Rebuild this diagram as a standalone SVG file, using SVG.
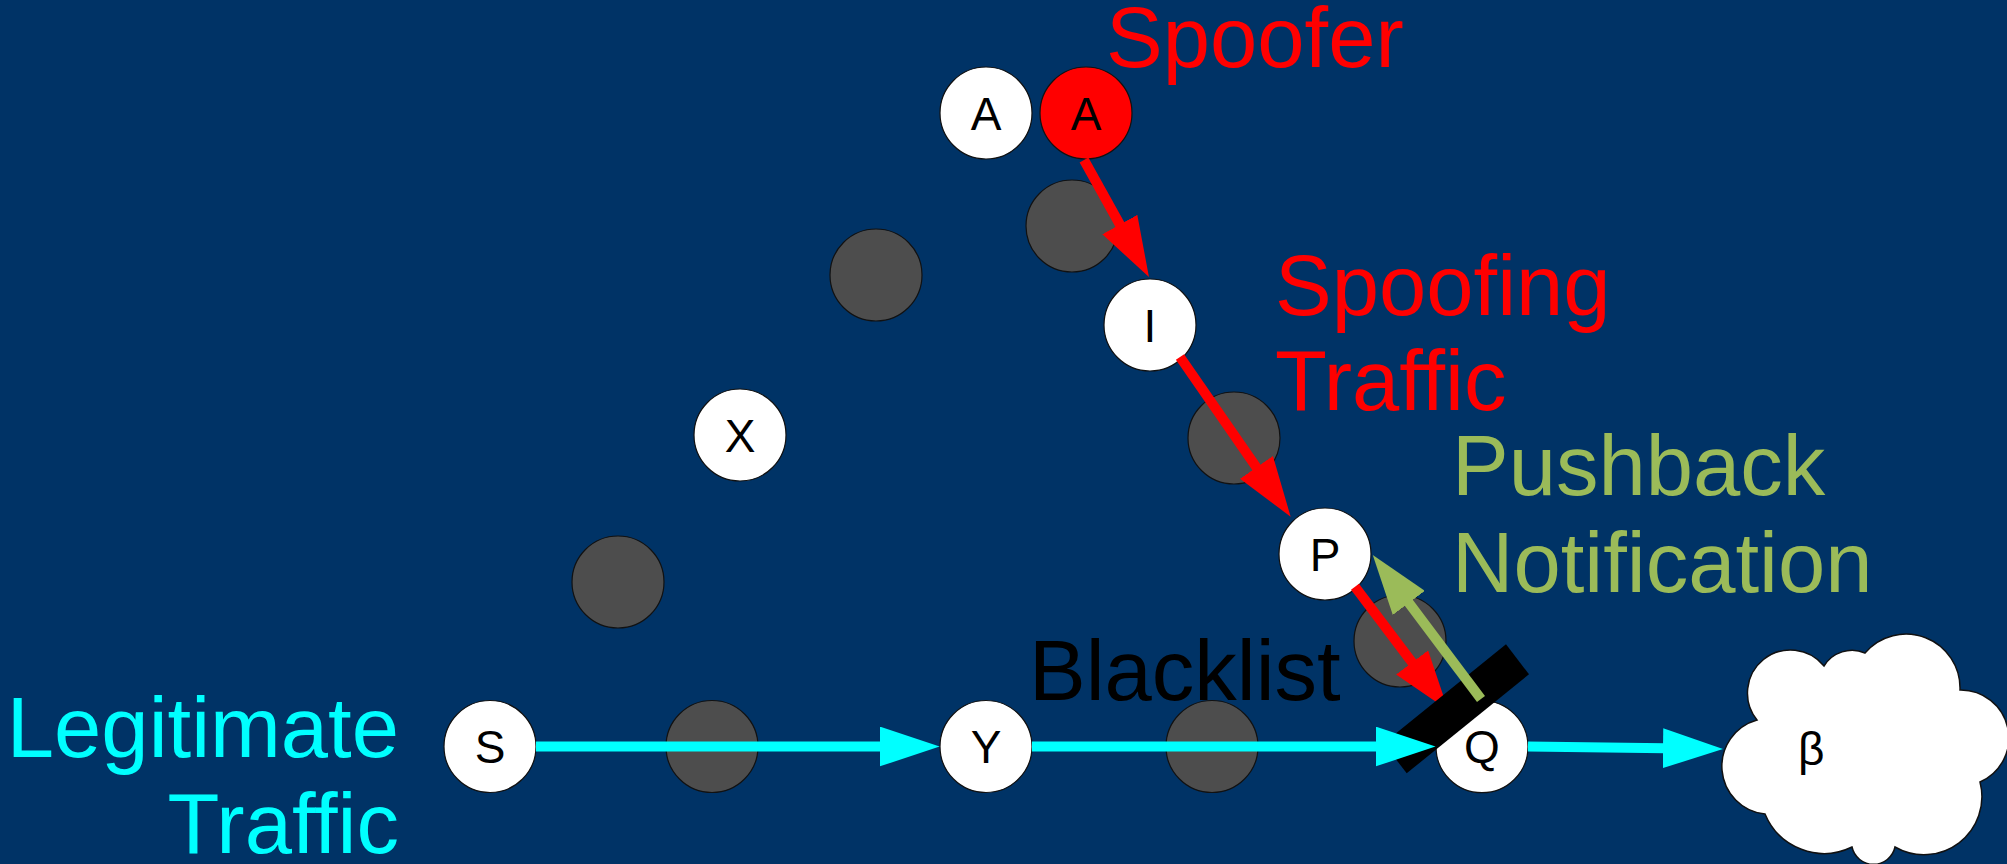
<svg xmlns="http://www.w3.org/2000/svg" width="2007" height="864" viewBox="0 0 2007 864">
<style>
.bg{fill:#003366}
.node{fill:#ffffff;stroke:#111;stroke-width:1.2}
.spoof{fill:#ff0000;stroke:#111;stroke-width:1.2}
.relay{fill:#4d4d4d;stroke:#111;stroke-width:1.2}
.lbl{font-family:"Liberation Sans",Arial,sans-serif;font-size:46px;fill:#000;text-anchor:middle}
.big{font-family:"Liberation Sans",Arial,sans-serif;font-size:85px}
.red{stroke:#ff0000;stroke-width:10;fill:none}
.cyan{stroke:#00ffff;stroke-width:10;fill:none}
.green{stroke:#9bbb59;stroke-width:10;fill:none}
</style>
<defs>
<marker id="ahRed" markerUnits="userSpaceOnUse" viewBox="0 -20 60 40" markerWidth="60" markerHeight="40" refX="2" refY="0" orient="auto"><path d="M0,-20 L60,0 L0,20 Z" fill="#ff0000"/></marker>
<marker id="ahCyan" markerUnits="userSpaceOnUse" viewBox="0 -20 60 40" markerWidth="60" markerHeight="40" refX="2" refY="0" orient="auto"><path d="M0,-20 L60,0 L0,20 Z" fill="#00ffff"/></marker>
<marker id="ahGreen" markerUnits="userSpaceOnUse" viewBox="0 -20 60 40" markerWidth="60" markerHeight="40" refX="2" refY="0" orient="auto"><path d="M0,-20 L60,0 L0,20 Z" fill="#9bbb59"/></marker>
</defs>
<rect class="bg" x="0" y="0" width="2007" height="864"/>

<g id="relays">
<circle class="relay" cx="1072" cy="226" r="46"/>
<circle class="relay" cx="876" cy="275" r="46"/>
<circle class="relay" cx="1234" cy="438" r="46"/>
<circle class="relay" cx="618" cy="582" r="46"/>
<circle class="relay" cx="1400" cy="641" r="46"/>
<circle class="relay" cx="712" cy="746.5" r="46"/>
<circle class="relay" cx="1212" cy="746.5" r="46"/>
</g>

<g id="node-A"><circle class="node" cx="986" cy="113" r="46"/><text class="lbl" x="986" y="129.5">A</text></g>
<g id="node-A-spoofer"><circle class="spoof" cx="1086" cy="113" r="46"/><text class="lbl" x="1086" y="129.5">A</text></g>
<g id="node-I"><circle class="node" cx="1150" cy="325" r="46"/><text class="lbl" x="1150" y="341.5">I</text></g>
<g id="node-X"><circle class="node" cx="740" cy="435" r="46"/><text class="lbl" x="740" y="451.5">X</text></g>
<g id="node-P"><circle class="node" cx="1325" cy="554" r="46"/><text class="lbl" x="1325" y="570.5">P</text></g>
<g id="node-S"><circle class="node" cx="490" cy="746.5" r="46"/><text class="lbl" x="490" y="763">S</text></g>
<g id="node-Y"><circle class="node" cx="986" cy="746.5" r="46"/><text class="lbl" x="986" y="763">Y</text></g>

<g id="node-beta">
<path d="M1757,720 A48,48 0 0 0 1765,814 A64,64 0 0 0 1852,847 A22,22 0 0 0 1895,847 A58,58 0 0 0 1980,782 A48,48 0 0 0 1960,690 A54,54 0 0 0 1865,653 A33,33 0 0 0 1824,666 A43,43 0 0 0 1757,720 Z" fill="#ffffff" stroke="#111" stroke-width="1.5"/>
<text x="1798" y="765" font-family="Liberation Sans, Arial, sans-serif" font-size="46" fill="#000">β</text>
</g>

<g id="connectors-spoofing">
<line class="red" x1="1084" y1="160" x2="1120.8" y2="226.3" marker-end="url(#ahRed)"/>
<line class="red" x1="1180" y1="357" x2="1257.6" y2="469" marker-end="url(#ahRed)"/>
<line class="red" x1="1355" y1="586.7" x2="1413.3" y2="664" marker-end="url(#ahRed)"/>
</g>

<g id="node-Q">
<circle class="node" cx="1482" cy="746.7" r="46"/><text class="lbl" x="1482" y="763.2">Q</text>
</g>

<g id="blacklist-bar">
<polygon points="1383.7,743.3 1506,644.3 1529,674.3 1406.7,773.3" fill="#000"/>
</g>

<g id="connectors-legit">
<line class="green" x1="1481" y1="699" x2="1407.6" y2="601.3" marker-end="url(#ahGreen)"/>
<line class="cyan" x1="536" y1="746.5" x2="881.6" y2="746.5" marker-end="url(#ahCyan)"/>
<line class="cyan" x1="1032" y1="746.5" x2="1377.5" y2="746.5" marker-end="url(#ahCyan)"/>
<line class="cyan" x1="1528" y1="746.5" x2="1665" y2="748.2" marker-end="url(#ahCyan)"/>
</g>

<g id="labels">
<text class="big" x="1106" y="66.7" fill="#ff0000">Spoofer</text>
<text class="big" x="1275" y="315" fill="#ff0000">Spoofing</text>
<text class="big" x="1275" y="410" fill="#ff0000">Traffic</text>
<text class="big" x="1452" y="495" fill="#9bbb59">Pushback</text>
<text class="big" x="1452" y="591.7" fill="#9bbb59">Notification</text>
<text class="big" x="1029" y="700" fill="#000">Blacklist</text>
<text class="big" x="399" y="756.7" fill="#00ffff" text-anchor="end">Legitimate</text>
<text class="big" x="399" y="852.7" fill="#00ffff" text-anchor="end">Traffic</text>
</g>
</svg>
